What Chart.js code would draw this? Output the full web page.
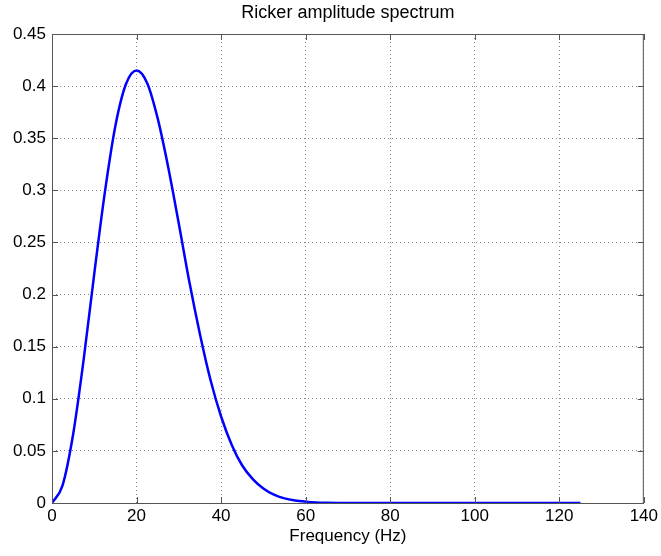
<!DOCTYPE html>
<html lang="en">
<head>
    <meta charset="UTF-8">
    <title>Ricker amplitude spectrum</title>
    <script src="https://cdn.jsdelivr.net/npm/chart.js"></script>
    <style>
        body {
            margin: 0;
            background: white;
        }
        .chart-container {
            width: 661px;
            height: 556px;
        }
    </style>
</head>
<body>
    <div class="chart-container">
        <canvas id="spectrumChart" width="661" height="556"></canvas>
    </div>

    <script>
        // values
        const frequency = [0, 2.5, 5, 7.5, 10, 12.5, 15, 17.5, 20, 22.5, 25, 27.5, 30, 32.5, 35, 37.5,
            40, 42.5, 45, 47.5, 50, 52.5, 55, 57.5, 60, 62.5, 65, 67.5, 70, 80, 90, 100, 110, 120, 125];
        const amplitude = [0, 0.017, 0.066, 0.138, 0.220, 0.298, 0.362, 0.402, 0.415, 0.403, 0.369, 0.322,
            0.268, 0.212, 0.162, 0.118, 0.083, 0.056, 0.036, 0.023, 0.014, 0.008, 0.0044, 0.0024,
            0.0013, 0.0006, 0.0003, 0.0001, 0, 0, 0, 0, 0, 0, 0];
        const xTicks = [0, 20, 40, 60, 80, 100, 120, 140];
        const yTicks = [0, 0.05, 0.1, 0.15, 0.2, 0.25, 0.3, 0.35, 0.4, 0.45];
        const chartTitle = 'Ricker amplitude spectrum';

        const fontFamily = '"Liberation Sans", Arial, Helvetica, sans-serif';

        // box round the plot, small inward tick marks and the title centred over the plot
        const frameTicks = {
            id: 'frameTicks',
            afterDraw(chart) {
                const { ctx, chartArea: a, scales } = chart;
                ctx.save();
                ctx.strokeStyle = '#555';
                ctx.lineWidth = 1;
                ctx.strokeRect(a.left + 0.5, a.top + 0.5, a.right - a.left - 1, a.bottom - a.top);
                ctx.beginPath();
                xTicks.forEach(v => {
                    const px = Math.round(scales.x.getPixelForValue(v)) + 0.5;
                    ctx.moveTo(px, a.bottom); ctx.lineTo(px, a.bottom - 6);
                    ctx.moveTo(px, a.top); ctx.lineTo(px, a.top + 6);
                });
                yTicks.forEach(v => {
                    const py = Math.round(scales.y.getPixelForValue(v)) + 0.5;
                    ctx.moveTo(a.left, py); ctx.lineTo(a.left + 6, py);
                    ctx.moveTo(a.right, py); ctx.lineTo(a.right - 6, py);
                });
                ctx.stroke();

                ctx.fillStyle = '#000';
                ctx.font = '18px ' + fontFamily;
                ctx.textAlign = 'center';
                ctx.textBaseline = 'middle';
                ctx.fillText(chartTitle, (a.left + a.right) / 2, 13);
                ctx.restore();
            }
        };

        const ctx = document.getElementById('spectrumChart').getContext('2d');
        new Chart(ctx, {
            type: 'line',
            data: {
                datasets: [{
                    label: 'Amplitude',
                    data: frequency.map((f, i) => ({ x: f, y: amplitude[i] })),
                    borderColor: '#0000ff',
                    borderWidth: 2.5,
                    pointRadius: 0,
                    cubicInterpolationMode: 'monotone',
                    fill: false
                }]
            },
            options: {
                responsive: false,
                animation: false,
                layout: {
                    padding: { left: 0, right: 16, top: 34, bottom: 0 }
                },
                plugins: {
                    legend: { display: false },
                    tooltip: { enabled: false },
                    title: { display: false }
                },
                scales: {
                    x: {
                        type: 'linear',
                        min: 0,
                        max: 140,
                        afterFit(scale) { scale.height = 53; },
                        afterBuildTicks(scale) { scale.ticks = xTicks.map(v => ({ value: v })); },
                        ticks: {
                            color: '#000',
                            padding: 3,
                            font: { family: fontFamily, size: 17 }
                        },
                        title: {
                            display: true,
                            text: 'Frequency (Hz)',
                            color: '#000',
                            padding: { top: 0, bottom: 9 },
                            font: { family: fontFamily, size: 17 }
                        },
                        grid: {
                            color: '#888',
                            drawTicks: false
                        },
                        border: { display: false, dash: [1, 3] }
                    },
                    y: {
                        min: 0,
                        max: 0.45,
                        afterFit(scale) { scale.width = 52; },
                        afterBuildTicks(scale) { scale.ticks = yTicks.map(v => ({ value: v })); },
                        ticks: {
                            color: '#000',
                            padding: 6,
                            font: { family: fontFamily, size: 17 },
                            callback: v => String(parseFloat(v.toFixed(2)))
                        },
                        grid: {
                            color: '#888',
                            drawTicks: false
                        },
                        border: { display: false, dash: [1, 3] }
                    }
                }
            },
            plugins: [frameTicks]
        });
    </script>
</body>
</html>
